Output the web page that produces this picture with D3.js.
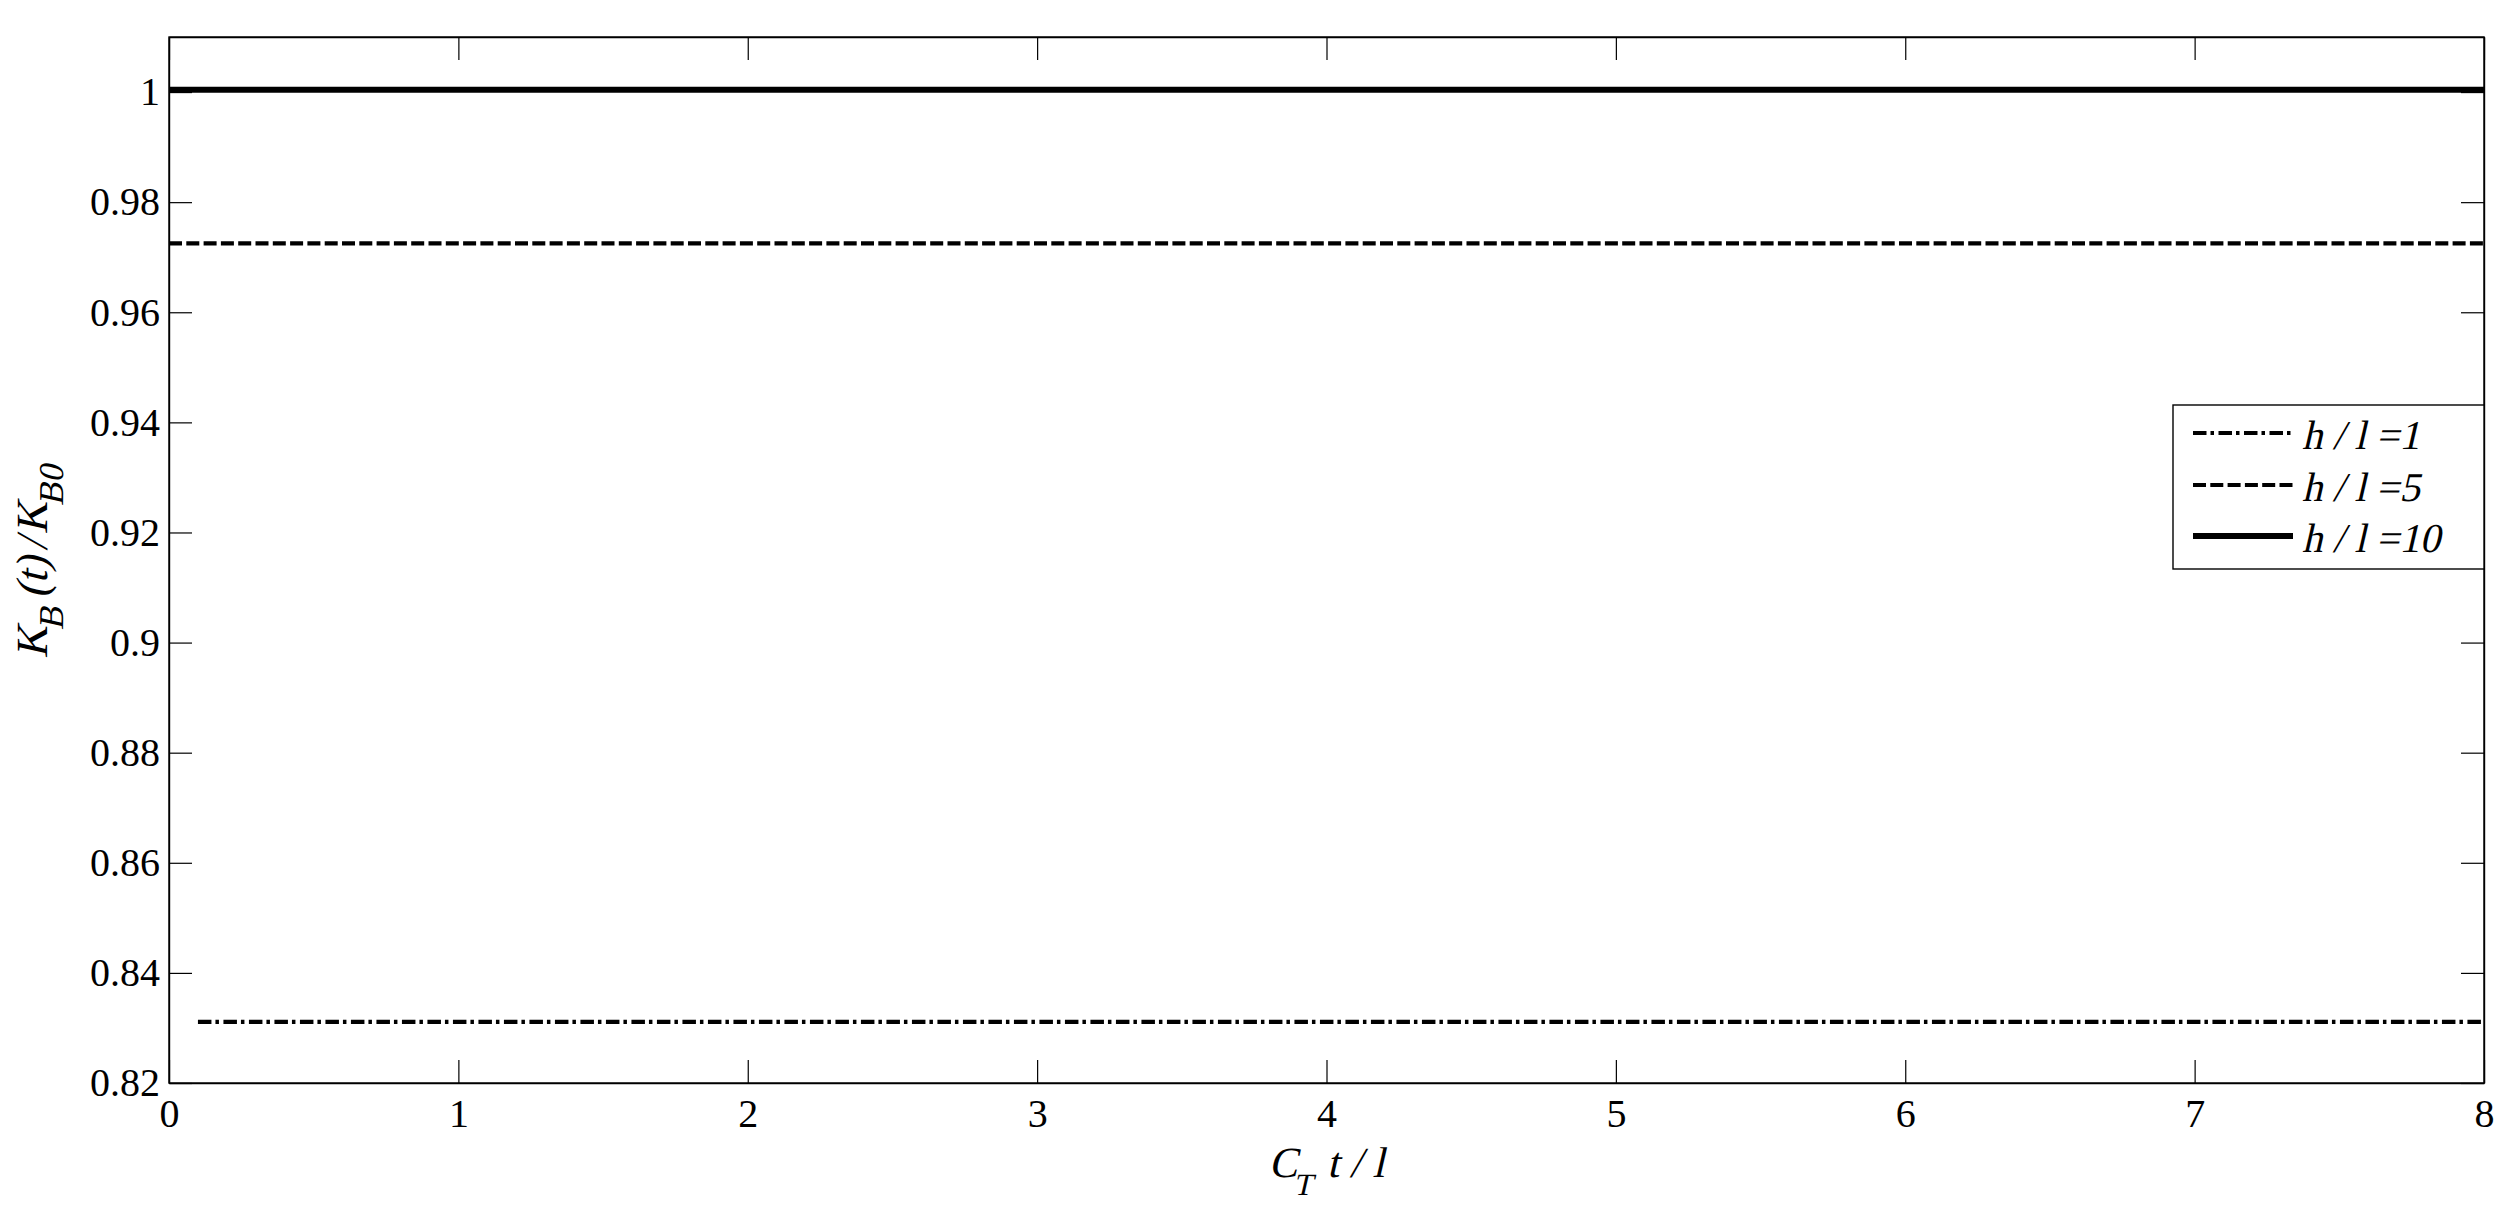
<!DOCTYPE html>
<html>
<head>
<meta charset="utf-8">
<script src="https://cdn.jsdelivr.net/npm/d3@7"></script>
<style>
  body { margin: 0; background: #fff; }
  text { font-family: "Liberation Serif", "Times New Roman", serif; fill: #000; }
</style>
</head>
<body>
<div class="chart"></div>
<script>
// data
const seriesNames = ["h / l =1", "h / l =5", "h / l =10"];
const seriesX = [[0.1, 8], [0, 8], [0, 8]];
const seriesY = [[0.8311, 0.8311], [0.9725, 0.9725], [1.0004, 1.0004]];
const xTicks = [0, 1, 2, 3, 4, 5, 6, 7, 8];
const yTicks = [0.82, 0.84, 0.86, 0.88, 0.9, 0.92, 0.94, 0.96, 0.98, 1];

// chart initialization
let margin = {top: 37, right: 29, left: 169, bottom: 137};
let outWidth = 2513, outHeight = 1220;
let width = outWidth - margin.left - margin.right,
    height = outHeight - margin.top - margin.bottom;

const styles = [
  {dash: "13.5,4,3.5,4.5", w: 4.2},
  {dash: "13,4.3", w: 4.2},
  {dash: null, w: 6}
];
// italic serif is faked with a skew of the upright face
const slant = "skewX(-13)";

const svg = d3.select('.chart').append('svg')
  .attr("width", outWidth)
  .attr("height", outHeight);

const g = svg.append("g")
  .attr("transform", `translate(${margin.left}, ${margin.top})`);

let xScale = d3.scaleLinear().domain([0, 8]).range([0, width]);
let yScale = d3.scaleLinear().domain([0.82, 1.01]).range([height, 0]);

const tickLen = 23;
const fmt = d => String(+d.toFixed(2));

// axes (inward ticks, mirrored on top and right)
g.append("g").attr("transform", `translate(0, ${height})`)
  .call(d3.axisBottom(xScale).tickValues(xTicks).tickSizeInner(-tickLen).tickSizeOuter(0).tickPadding(16).tickFormat(fmt));
g.append("g")
  .call(d3.axisTop(xScale).tickValues(xTicks).tickSizeInner(-tickLen).tickSizeOuter(0).tickFormat(""));
g.append("g")
  .call(d3.axisLeft(yScale).tickValues(yTicks).tickSizeInner(-tickLen).tickSizeOuter(0).tickPadding(9).tickFormat(fmt));
g.append("g").attr("transform", `translate(${width}, 0)`)
  .call(d3.axisRight(yScale).tickValues(yTicks).tickSizeInner(-tickLen).tickSizeOuter(0).tickFormat(""));

g.selectAll(".domain").attr("stroke", "#000").attr("stroke-width", 1.4);
g.selectAll(".tick line").attr("stroke", "#000").attr("stroke-width", 1.2);
g.selectAll(".tick text")
  .style("font-family", "'Liberation Serif', serif")
  .style("font-size", "40px")
  .attr("fill", "#000");

// box
g.append("rect").attr("width", width).attr("height", height)
  .attr("fill", "none").attr("stroke", "#000").attr("stroke-width", 1.4);

// lines
const line = d3.line().x(d => xScale(d[0])).y(d => yScale(d[1]));
seriesNames.forEach((name, i) => {
  const pts = seriesX[i].map((x, j) => [x, seriesY[i][j]]);
  g.append("path").datum(pts)
    .attr("d", line)
    .attr("fill", "none")
    .attr("stroke", "#000")
    .attr("stroke-width", styles[i].w)
    .attr("stroke-dasharray", styles[i].dash);
});

// legend
const lg = svg.append("g").attr("transform", "translate(2173, 405)");
lg.append("rect").attr("width", 2484 - 2173).attr("height", 164)
  .attr("fill", "#fff").attr("stroke", "#000").attr("stroke-width", 1.4);
const rowY = [28, 80, 131];
seriesNames.forEach((name, i) => {
  lg.append("line")
    .attr("x1", 20).attr("x2", 120)
    .attr("y1", rowY[i]).attr("y2", rowY[i])
    .attr("stroke", "#000")
    .attr("stroke-width", styles[i].w)
    .attr("stroke-dasharray", styles[i].dash);
  lg.append("text")
    .attr("transform", `translate(129, ${rowY[i] + 16}) ${slant}`)
    .style("font-size", "41px")
    .attr("xml:space", "preserve")
    .text(name);
});

// x label
const xl = svg.append("text")
  .attr("transform", `translate(${margin.left + width / 2}, 1177) ${slant}`)
  .attr("text-anchor", "middle")
  .style("font-size", "43px");
xl.append("tspan").text("C");
xl.append("tspan").attr("dy", 18).style("font-size", "31px").text("T");
xl.append("tspan").attr("dy", -18).text(" t / l");

// y label, squeezed to the length it has in the picture (about 197px)
const yTrans = `translate(47, ${margin.top + height / 2}) rotate(-90)`;
const yl = svg.append("text")
  .attr("transform", `${yTrans} ${slant}`)
  .attr("text-anchor", "middle")
  .style("font-size", "46px");
yl.append("tspan").text("K");
yl.append("tspan").attr("dy", 17).style("font-size", "36px").text("B");
yl.append("tspan").attr("dy", -17).attr("dx", 5).text("(t)");
yl.append("tspan").attr("dx", 6).text("/");
yl.append("tspan").attr("dx", 4).text("K");
yl.append("tspan").attr("dy", 17).style("font-size", "36px").text("B0");
const yw = yl.node().getBBox().width;
if (yw > 0) {
  const s = Math.min(1.15, Math.max(0.75, 197 / yw));
  yl.attr("transform", `${yTrans} scale(${s}) ${slant}`);
}
</script>
</body>
</html>
